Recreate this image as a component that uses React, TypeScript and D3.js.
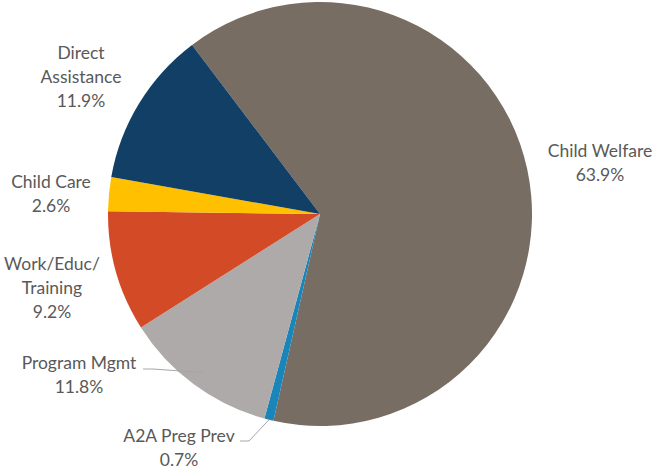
import React, { useRef, useEffect } from "react";
import * as d3 from "d3";

const categories = [
  "Child Welfare",
  "A2A Preg Prev",
  "Program Mgmt",
  "Work/Educ/Training",
  "Child Care",
  "Direct Assistance",
];
const values = [63.9, 0.7, 11.8, 9.2, 2.6, 11.9];
const colors = ["#786d63", "#1a85b8", "#aeaaaa", "#d24a26", "#ffc000", "#123f66"];

// label lines and where they sit (layout only)
const labelLines: Record<string, string[]> = {
  "Child Welfare": ["Child Welfare"],
  "A2A Preg Prev": ["A2A Preg Prev"],
  "Program Mgmt": ["Program Mgmt"],
  "Work/Educ/Training": ["Work/Educ/", "Training"],
  "Child Care": ["Child Care"],
  "Direct Assistance": ["Direct", "Assistance"],
};
const labelPos: Record<string, [number, number]> = {
  "Child Welfare": [600, 151],
  "A2A Preg Prev": [179, 436],
  "Program Mgmt": [79, 363],
  "Work/Educ/Training": [52, 264],
  "Child Care": [51, 182],
  "Direct Assistance": [81, 53],
};

const App = () => {
  const svgRef = useRef<SVGSVGElement>(null);

  useEffect(() => {
    const width = 659;
    const height = 469;
    const cx = 320;
    const cy = 214;
    const r = 212;

    const svg = d3.select(svgRef.current).attr("width", width).attr("height", height);
    svg.selectAll("*").remove();

    const data = categories.map((c, i) => ({ name: c, value: values[i], color: colors[i] }));
    const start = -0.648;
    const pie = d3
      .pie<any>()
      .sort(null)
      .value((d) => d.value)
      .startAngle(start)
      .endAngle(start + Math.PI * 2);
    const arc = d3.arc<any>().innerRadius(0).outerRadius(r);

    const g = svg.append("g").attr("transform", `translate(${cx},${cy})`);
    const arcs = pie(data);
    g.selectAll("path")
      .data(arcs)
      .join("path")
      .attr("d", arc)
      .attr("fill", (d) => d.data.color);

    // leader lines for small/bottom slices
    const leaders: Record<string, { from: [number, number]; elbow: [number, number] }> = {
      "Program Mgmt": { from: [143, 369], elbow: [153, 369] },
      "A2A Preg Prev": { from: [240, 441], elbow: [249, 441] },
    };
    arcs.forEach((a) => {
      const ld = leaders[a.data.name];
      if (!ld) return;
      const mid = (a.startAngle + a.endAngle) / 2;
      const pr = a.data.name === "A2A Preg Prev" ? r : r * 0.93;
      const px = cx + pr * Math.sin(mid);
      const py = cy - pr * Math.cos(mid);
      svg
        .append("polyline")
        .attr("points", `${ld.from.join(",")} ${ld.elbow.join(",")} ${px},${py}`)
        .attr("fill", "none")
        .attr("stroke", "#a6a6a6")
        .attr("stroke-width", 1);
    });

    const fmt = (v: number) => `${v.toFixed(1)}%`;
    data.forEach((d) => {
      const [x, y] = labelPos[d.name];
      const lines = [...labelLines[d.name], fmt(d.value)];
      const t = svg
        .append("text")
        .attr("text-anchor", "middle")
        .attr("font-family", "Lato, sans-serif")
        .attr("font-size", 17.5)
        .attr("fill", "#595959");
      lines.forEach((l, i) => {
        t.append("tspan")
          .attr("x", x)
          .attr("y", y + i * 24)
          .attr("dy", "0.35em")
          .text(l);
      });
    });
  }, []);

  return <svg ref={svgRef} style={{ position: "absolute", left: 0, top: 0 }}></svg>;
};

export default App;
